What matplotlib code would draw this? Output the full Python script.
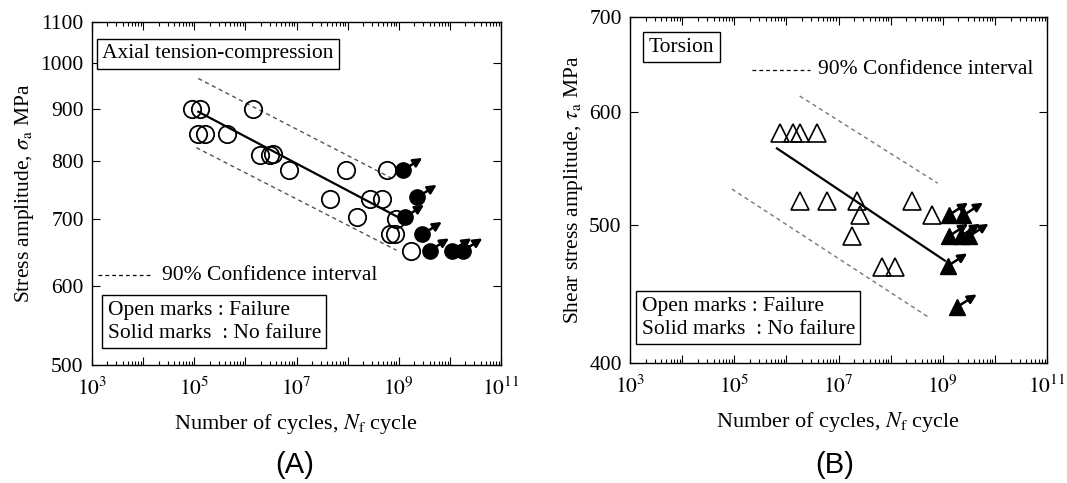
import matplotlib
matplotlib.use("Agg")
import matplotlib.pyplot as plt
from matplotlib.ticker import LogLocator, FixedLocator, FuncFormatter, NullFormatter
import numpy as np

plt.rcParams['font.family'] = ['Liberation Serif', 'DejaVu Serif']
plt.rcParams['mathtext.fontset'] = 'stix'

# ---------------- Data: (A) axial tension-compression ----------------
axial_fail_N = [9e4, 1.3e5, 1.4e6, 1.2e5, 1.6e5, 4.4e5, 1.9e6, 3.0e6, 3.5e6, 7e6,
                9.5e7, 6e8, 4.5e7, 2.7e8, 4.6e8, 1.5e8, 9e8, 6.6e8, 8.3e8, 1.7e9]
axial_fail_S = [900, 900, 900, 850, 850, 850, 810, 810, 812, 782,
                783, 783, 732, 732, 732, 702, 700, 675, 675, 650]
axial_run_N = [1.2e9, 2.3e9, 1.3e9, 2.9e9, 4.0e9, 1.1e10, 1.8e10]
axial_run_S = [782, 735, 702, 675, 650, 650, 650]
axial_fit_N = [1.2e5, 1.1e9]
axial_fit_S = [895, 700]
axial_upper_N = [1.2e5, 8.5e8]
axial_upper_S = [966, 765]
axial_lower_N = [1.1e5, 9.0e8]
axial_lower_S = [824, 651]
axial_yticks = [500, 600, 700, 800, 900, 1000, 1100]

# ---------------- Data: (B) torsion ----------------
tors_fail_N = [7.5e5, 1.35e6, 1.8e6, 3.9e6, 1.8e6, 6e6, 2.3e7, 2.6e7, 1.8e7,
               6.9e7, 1.2e8, 2.6e8, 6.3e8]
tors_fail_S = [580, 580, 580, 580, 520, 520, 520, 508, 491,
               467, 467, 520, 508]
tors_run_N = [1.3e9, 2.5e9, 1.3e9, 2.2e9, 3.2e9, 1.25e9, 1.9e9]
tors_run_S = [508, 508, 491, 491, 491, 468, 438]
tors_fit_N = [6.6e5, 1.1e9]
tors_fit_S = [566, 472]
tors_upper_N = [1.8e6, 8.0e8]
tors_upper_S = [616, 535]
tors_lower_N = [9e4, 5.2e8]
tors_lower_S = [530, 431]
tors_yticks = [400, 500, 600, 700]

xticks_major = [1e3, 1e4, 1e5, 1e6, 1e7, 1e8, 1e9, 1e10, 1e11]

FS = 15.5

fig = plt.figure(figsize=(10.67, 4.83), dpi=100)
axA = fig.add_axes([92/1067, 1-365/483, (501-92)/1067, (365-22)/483])
axB = fig.add_axes([630/1067, 1-363/483, (1047-630)/1067, (363-17)/483])


def xfmt(v, pos):
    e = int(round(np.log10(v)))
    if e % 2 == 1:
        return r'$10^{%d}$' % e
    return ''


def style_axes(ax, yticks, ylim):
    ax.set_xscale('log')
    ax.set_yscale('log')
    ax.set_xlim(1e3, 1e11)
    ax.set_ylim(*ylim)
    ax.xaxis.set_major_locator(FixedLocator(xticks_major))
    ax.xaxis.set_major_formatter(FuncFormatter(xfmt))
    ax.xaxis.set_minor_locator(LogLocator(base=10, subs=np.arange(2, 10), numticks=100))
    ax.xaxis.set_minor_formatter(NullFormatter())
    ax.yaxis.set_major_locator(FixedLocator(yticks))
    ax.yaxis.set_major_formatter(FuncFormatter(lambda v, p: '%d' % v))
    ax.yaxis.set_minor_locator(FixedLocator([]))
    ax.tick_params(which='both', direction='in', top=True, right=True,
                   labelsize=FS, width=0.8)
    ax.tick_params(which='major', length=6, pad=6)
    ax.tick_params(axis='x', which='major', pad=9)
    ax.tick_params(which='minor', length=3)
    for s in ax.spines.values():
        s.set_linewidth(1.0)
    ax.set_xlabel(r'Number of cycles, $N_{\rm f}$ cycle', fontsize=16, labelpad=9)


def runout_arrows(ax, Ns, Ss):
    for n, s in zip(Ns, Ss):
        ax.annotate('', xy=(n, s), xycoords='data',
                    xytext=(14, 9), textcoords='offset points',
                    arrowprops=dict(arrowstyle='<|-', color='black', lw=1.8,
                                    mutation_scale=13, shrinkA=0, shrinkB=3))


box = dict(boxstyle='square,pad=0.25', fc='white', ec='black', lw=1.0)

# ---------- Panel A ----------
style_axes(axA, axial_yticks, (500, 1100))
axA.plot(axial_upper_N, axial_upper_S, ls=(0, (3, 2.5)), color='#555555', lw=1.0)
axA.plot(axial_lower_N, axial_lower_S, ls=(0, (3, 2.5)), color='#555555', lw=1.0)
axA.plot(axial_fit_N, axial_fit_S, color='black', lw=1.6)
axA.plot(axial_fail_N, axial_fail_S, 'o', mfc='none', mec='black', ms=12.5, mew=1.3)
runout_arrows(axA, axial_run_N, axial_run_S)
axA.plot(axial_run_N, axial_run_S, 'o', mfc='black', mec='black', ms=11)
axA.set_ylabel(r'Stress amplitude, $\sigma_{\rm a}$ MPa', fontsize=FS, labelpad=3)
axA.text(0.025, 0.935, 'Axial tension-compression', transform=axA.transAxes,
         fontsize=FS, ha='left', va='top', bbox=box)
axA.plot([0.015, 0.147], [0.262, 0.262], transform=axA.transAxes,
         ls=(0, (3, 2.5)), color='black', lw=0.9)
axA.text(0.17, 0.262, '90% Confidence interval', transform=axA.transAxes,
         fontsize=FS, ha='left', va='center')
axA.text(0.038, 0.065, 'Open marks : Failure\nSolid marks  : No failure',
         transform=axA.transAxes, fontsize=FS, ha='left', va='bottom',
         bbox=box, linespacing=1.3)

# ---------- Panel B ----------
style_axes(axB, tors_yticks, (400, 700))
axB.plot(tors_upper_N, tors_upper_S, ls=(0, (3, 2.5)), color='#777777', lw=1.0)
axB.plot(tors_lower_N, tors_lower_S, ls=(0, (3, 2.5)), color='#777777', lw=1.0)
axB.plot(tors_fit_N, tors_fit_S, color='black', lw=1.6)
axB.plot(tors_fail_N, tors_fail_S, '^', mfc='none', mec='black', ms=12.5, mew=1.2)
runout_arrows(axB, tors_run_N, tors_run_S)
axB.plot(tors_run_N, tors_run_S, '^', mfc='black', mec='black', ms=11)
axB.set_ylabel(r'Shear stress amplitude, $\tau_{\rm a}$ MPa', fontsize=FS, labelpad=3)
axB.text(0.045, 0.94, 'Torsion', transform=axB.transAxes,
         fontsize=FS, ha='left', va='top', bbox=box)
axB.plot([0.293, 0.432], [0.847, 0.847], transform=axB.transAxes,
         ls=(0, (3, 2.5)), color='black', lw=0.9)
axB.text(0.45, 0.847, '90% Confidence interval', transform=axB.transAxes,
         fontsize=FS, ha='left', va='center')
axB.text(0.028, 0.07, 'Open marks : Failure\nSolid marks  : No failure',
         transform=axB.transAxes, fontsize=FS, ha='left', va='bottom',
         bbox=box, linespacing=1.3)

fig.text(295/1067, 1-465/483, '(A)', fontsize=21, ha='center', va='center',
         family='Liberation Sans')
fig.text(835/1067, 1-465/483, '(B)', fontsize=21, ha='center', va='center',
         family='Liberation Sans')

fig.savefig('out.png', dpi=100)
